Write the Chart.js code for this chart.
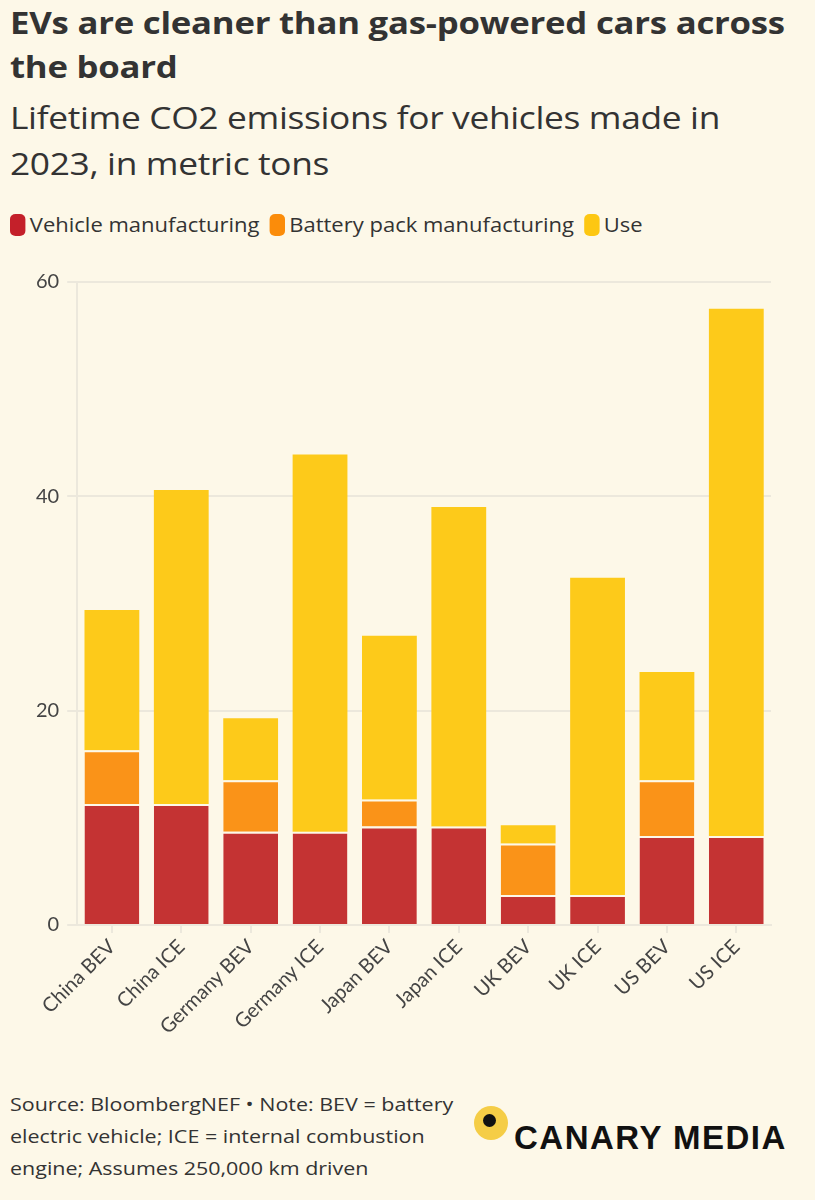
<!DOCTYPE html>
<html>
<head>
<meta charset="utf-8">
<script src="https://cdn.jsdelivr.net/npm/chart.js@4"></script>
<style>
  body { margin: 0; background: #fdf8e8; font-family: "Open Sans", Lato, sans-serif; color: #333; }
  #page { position: relative; width: 815px; height: 1200px; overflow: hidden; }
  .wide { transform-origin: 0 0; white-space: nowrap; }
  #title { position: absolute; left: 10px; top: 0px; font-size: 31px; font-weight: 700; line-height: 44px; color: #333; letter-spacing: -0.2px; transform: scaleX(1.12); }
  #subtitle { position: absolute; left: 10px; top: 94px; font-size: 31px; font-weight: 400; line-height: 46px; color: #333; letter-spacing: -0.3px; transform: scaleX(1.14); }
  #legend { position: absolute; left: 10px; top: 211px; font-size: 20px; color: #333; display: flex; align-items: center; transform: scaleX(1.1); }
  #legend span.sw { display: inline-block; width: 14px; height: 22px; border-radius: 5px; margin-right: 4px; }
  #legend span.lb { margin-right: 9px; }
  #chartBox { position: absolute; left: 0; top: 262px; width: 815px; height: 779px; }
  #note { position: absolute; left: 10px; top: 1088px; font-size: 19px; line-height: 32px; color: #333; transform: scaleX(1.13); }
  #logo { position: absolute; left: 474px; top: 1106px; }
  #logo .dot { position: absolute; left: 0; top: 0; width: 34px; height: 34px; border-radius: 50%; background: #f5cd46; }
  #logo .dot::after { content: ""; position: absolute; left: 9px; top: 8px; width: 13px; height: 13px; border-radius: 50%; background: #111; }
  #logo .name { position: absolute; left: 40px; top: 13px; font-family: "Liberation Sans", Arial, sans-serif; font-weight: 700; font-size: 33px; color: #111; white-space: nowrap; letter-spacing: 1.5px; }
</style>
</head>
<body>
<div id="page">
  <div id="title" class="wide">EVs are cleaner than gas-powered cars across<br>the board</div>
  <div id="subtitle" class="wide">Lifetime CO2 emissions for vehicles made in<br>2023, in metric tons</div>
  <div id="legend" class="wide">
    <span class="sw" style="background:#c4202a"></span><span class="lb">Vehicle manufacturing</span>
    <span class="sw" style="background:#fb8c0a"></span><span class="lb">Battery pack manufacturing</span>
    <span class="sw" style="background:#fdc712"></span><span class="lb">Use</span>
  </div>
  <div id="chartBox"><canvas id="chart"></canvas></div>
  <div id="note" class="wide">Source: BloombergNEF • Note: BEV = battery<br>electric vehicle; ICE = internal combustion<br>engine; Assumes 250,000 km driven</div>
  <div id="logo"><div class="dot"></div><div class="name">CANARY MEDIA</div></div>
</div>
<script>
const categories = ["China BEV", "China ICE", "Germany BEV", "Germany ICE", "Japan BEV",
  "Japan ICE", "UK BEV", "UK ICE", "US BEV", "US ICE"];
const vehicleMfg = [11.3, 11.3, 8.7, 8.7, 9.2, 9.2, 2.8, 2.8, 8.3, 8.3];
const batteryMfg = [5.0, null, 4.8, null, 2.5, null, 4.8, null, 5.2, null];
const useEmissions = [13.1, 29.3, 5.8, 35.2, 15.3, 29.8, 1.7, 29.6, 10.1, 49.2];
const yTicks = [0, 20, 40, 60];

const bg = "#fdf8e8";
const ctx = document.getElementById("chart").getContext("2d");
const myChart = new Chart(ctx, {
  type: "bar",
  data: {
    labels: categories,
    datasets: [
      {
        label: "Vehicle manufacturing",
        data: vehicleMfg,
        backgroundColor: "#c43333",
        borderColor: bg,
        borderWidth: { top: 2, bottom: 0, left: 0, right: 0 },
        borderSkipped: false,
      },
      {
        label: "Battery pack manufacturing",
        data: batteryMfg,
        backgroundColor: "#fa9318",
        borderColor: bg,
        borderWidth: { top: 2, bottom: 0, left: 0, right: 0 },
        borderSkipped: false,
      },
      {
        label: "Use",
        data: useEmissions,
        backgroundColor: "#fdca1a",
        borderWidth: 0,
      },
    ],
  },
  options: {
    animation: false,
    responsive: true,
    maintainAspectRatio: false,
    layout: { padding: { top: 12, right: 44, left: 28, bottom: 0 } },
    plugins: { legend: { display: false }, tooltip: { enabled: false } },
    datasets: { bar: { categoryPercentage: 1.0, barPercentage: 0.79 } },
    scales: {
      x: {
        stacked: true,
        grid: { offset: false, drawOnChartArea: false, drawTicks: true, tickLength: 8, color: "#ece8dc", lineWidth: 2 },
        border: { color: "#ece8dc", width: 2 },
        ticks: {
          color: "#444",
          font: { family: "Lato", size: 20 },
          maxRotation: 45,
          minRotation: 45,
          padding: 2,
        },
      },
      y: {
        stacked: true,
        min: 0,
        max: 60,
        afterBuildTicks: (axis) => { axis.ticks = yTicks.map((v) => ({ value: v })); },
        grid: { color: "#ece8dc", lineWidth: 2, tickLength: 10 },
        border: { color: "#ece8dc", width: 2 },
        ticks: { color: "#444", font: { family: "Lato", size: 20 }, padding: 8 },
      },
    },
  },
});
</script>
</body>
</html>
